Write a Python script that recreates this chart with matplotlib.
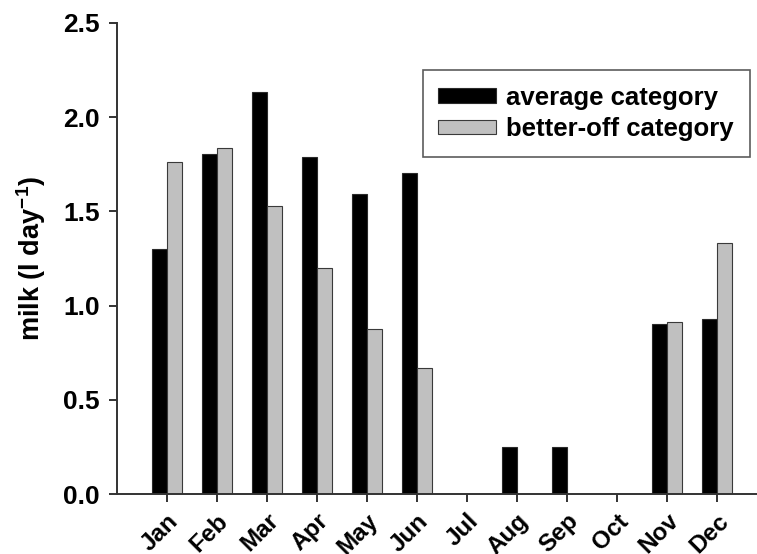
import numpy as np
import matplotlib.pyplot as plt

plt.rcParams['font.family'] = ['Liberation Sans', 'DejaVu Sans']
plt.rcParams['font.weight'] = 'bold'
plt.rcParams['mathtext.fontset'] = 'custom'
plt.rcParams['mathtext.rm'] = 'Liberation Sans:bold'
plt.rcParams['mathtext.bf'] = 'Liberation Sans:bold'
plt.rcParams['mathtext.default'] = 'bf'

months = ['Jan', 'Feb', 'Mar', 'Apr', 'May', 'Jun', 'Jul', 'Aug', 'Sep', 'Oct', 'Nov', 'Dec']
average = [1.30, 1.807, 2.136, 1.788, 1.593, 1.705, 0.0, 0.25, 0.25, 0.0, 0.90, 0.93]
better_off = [1.763, 1.839, 1.526, 1.20, 0.875, 0.67, 0.0, 0.0, 0.0, 0.0, 0.915, 1.33]

x = np.arange(len(months))
w = 0.3

fig = plt.figure(figsize=(7.57, 5.54), dpi=100)
ax = fig.add_axes([0.1539, 0.1083, 0.8461, 0.8502])

ax.bar(x - w / 2, average, w, color='black', edgecolor='#2a2a2a', linewidth=0.8,
       label='average category')
ax.bar(x + w / 2, better_off, w, color='#c0c0c0', edgecolor='#3a3a3a', linewidth=0.8,
       label='better-off category')

ax.set_xlim(-1.0, 11.8)
ax.set_ylim(0, 2.5)
ax.set_yticks([0.0, 0.5, 1.0, 1.5, 2.0, 2.5])
ax.set_yticklabels(['0.0', '0.5', '1.0', '1.5', '2.0', '2.5'], fontsize=19, fontweight='bold')
ax.set_xticks(x)
ax.set_xticklabels(months, rotation=45, ha='right', va='top', rotation_mode='anchor',
                   fontsize=17.5, fontweight='bold')

ax.set_ylabel('milk (l day$^{-1}$)', fontsize=19.5, fontweight='bold', labelpad=11)

for side in ['top', 'right']:
    ax.spines[side].set_visible(False)
for side in ['left', 'bottom']:
    ax.spines[side].set_color('#333333')
    ax.spines[side].set_linewidth(1.4)
ax.tick_params(axis='both', direction='out', length=6, width=1.4, color='#333333')
ax.tick_params(axis='x', pad=5)
ax.tick_params(axis='y', pad=6)

leg = ax.legend(loc='upper left', bbox_to_anchor=(0.4785, 0.900), borderaxespad=0,
                fontsize=18.5, frameon=True, fancybox=False, edgecolor='#333333',
                handlelength=2.25, handleheight=0.5, borderpad=0.6,
                labelspacing=0.3, handletextpad=0.4)
leg.get_frame().set_linewidth(1.2)

fig.savefig('out.png', dpi=100)
